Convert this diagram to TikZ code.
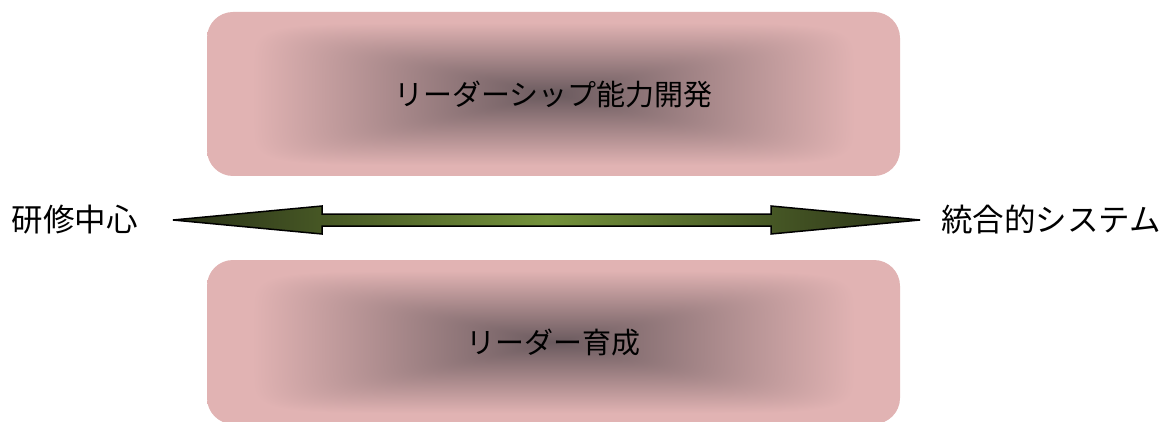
\documentclass[tikz,border=0pt]{standalone}
\usepackage{fontspec}
\newfontfamily\jp{Noto Sans CJK JP}
\pgfdeclarefunctionalshading{rectpath}{\pgfpoint{0bp}{0bp}}{\pgfpoint{100bp}{100bp}}{}{
 50 sub 25 div dup mul dup mul dup mul exch 50 sub 25 div dup mul dup mul dup mul add sqrt sqrt sqrt
 1.15 mul dup 1 gt {pop 1} if
 dup 0.466 mul 0.416 add exch dup 0.349 mul 0.353 add exch 0.333 mul 0.369 add
}
\definecolor{tipgreen}{RGB}{40,48,22}
\definecolor{midgreen}{RGB}{116,146,59}
\tikzset{
  box/.style={rounded corners=26pt, shading=rectpath, minimum width=693pt, minimum height=164pt, inner sep=0pt, font=\jp\fontsize{29}{29}\selectfont},
  side/.style={inner sep=0pt, font=\jp\fontsize{31.5}{32}\selectfont},
  arrowbody/.style={left color=tipgreen, right color=tipgreen, middle color=midgreen, draw=black, line width=1.5pt, line join=miter}
}
\begin{document}
\begin{tikzpicture}[x=1pt,y=-1pt]
\useasboundingbox (0,0) rectangle (1169,422);
\node[box] (top) at (553.5,94) {リーダーシップ能力開発};
\node[box] (bot) at (553.5,342) {リーダー育成};
\node[side] (left) at (75,220) {研修中心};
\node[side] (right) at (1051,220) {統合的システム};
\coordinate (lt) at (173,220);
\coordinate (rt) at (920,220);
\path[arrowbody] (lt) -- (322,206) -- (322,214) -- (771,214) -- (771,206) -- (rt) -- (771,234) -- (771,226) -- (322,226) -- (322,234) -- cycle;
\end{tikzpicture}
\end{document}
